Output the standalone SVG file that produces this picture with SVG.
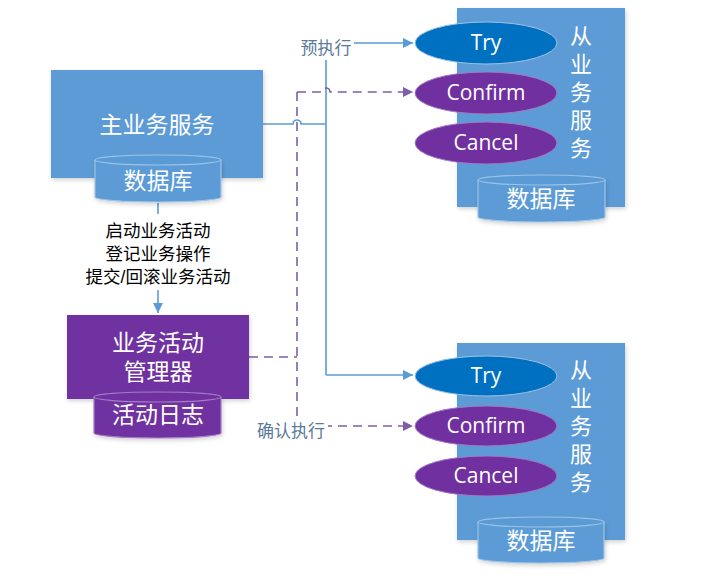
<svg xmlns="http://www.w3.org/2000/svg" width="701" height="575" viewBox="0 0 701 575">
<defs>
<style>
.cjk{font-family:"Liberation Sans","Noto Sans CJK SC",sans-serif;}
.lat{font-family:"Open Sans","Noto Sans","Liberation Sans",sans-serif;}
.wt{fill:#ffffff;text-anchor:middle;}
.blue{fill:#5b9bd5;}
.purp{fill:#7030a0;}
.cylb{fill:#5b9bd5;stroke:#9dc3e6;stroke-width:1.2;}
.cylp{fill:#7030a0;stroke:#a27cc4;stroke-width:1.2;}
.conb{fill:none;stroke:#5b9bd5;stroke-width:1.6;}
.conp{fill:none;stroke:#7e5ea8;stroke-width:1.6;stroke-dasharray:9 6;}
.lbl{fill:#5b7a9a;font-size:17px;text-anchor:middle;}
</style>
<marker id="ab" viewBox="0 0 10 10" refX="10" refY="5" markerWidth="10" markerHeight="10" markerUnits="userSpaceOnUse" orient="auto"><path d="M0,0 L10,5 L0,10 Z" fill="#5b9bd5"/></marker>
<marker id="ap" viewBox="0 0 10 10" refX="10" refY="5" markerWidth="10" markerHeight="10" markerUnits="userSpaceOnUse" orient="auto"><path d="M0,0 L10,5 L0,10 Z" fill="#7e5ea8"/></marker>
<filter id="sh" x="-10%" y="-10%" width="130%" height="130%"><feDropShadow dx="1" dy="2" stdDeviation="2" flood-color="#000" flood-opacity="0.18"/></filter>
</defs>
<rect width="701" height="575" fill="#ffffff"/>

<g id="connectors">
<path class="conb" d="M263,124 H293 A4,4 0 0 1 301,124 H326"/>
<path class="conb" d="M326,375 V43 H413" marker-end="url(#ab)"/>
<path class="conb" d="M326,375 H413" marker-end="url(#ab)"/>
<path class="conp" d="M249,357 H297"/>
<path class="conp" d="M297,92 V426 H413" marker-end="url(#ap)"/>
<path class="conp" d="M297,92 H322 A4,4 0 0 1 330,92 H413" marker-end="url(#ap)"/>
<path class="conb" d="M158,203 V313" marker-end="url(#ab)"/>
<rect x="298" y="35" width="56" height="25" fill="#ffffff"/>
<text class="cjk lbl" x="326" y="54">预执行</text>
<rect x="254" y="419" width="74" height="24" fill="#ffffff"/>
<text class="cjk lbl" x="291" y="437">确认执行</text>
<rect x="80" y="214" width="156" height="76" fill="#ffffff"/>
<text class="cjk" font-size="17.5" fill="#000000" text-anchor="middle"><tspan x="158" y="237">启动业务活动</tspan><tspan x="158" y="260">登记业务操作</tspan><tspan x="158" y="283">提交/回滚业务活动</tspan></text>
</g>

<g id="main-service">
<rect x="51" y="70" width="212" height="108" class="blue" filter="url(#sh)"/>
<text class="cjk wt" x="157" y="133" font-size="23">主业务服务</text>
<g id="main-db">
<path class="cylb" d="M95,160 V197 A63,5 0 0 0 221,197 V160" filter="url(#sh)"/>
<ellipse class="cylb" cx="158" cy="160" rx="63" ry="5"/>
<text class="cjk wt" x="158" y="189" font-size="23">数据库</text>
</g>
</g>

<g id="activity-manager">
<rect x="67" y="315" width="182" height="84" class="purp" filter="url(#sh)"/>
<text class="cjk wt" font-size="23"><tspan x="158" y="351">业务活动</tspan><tspan x="158" y="380">管理器</tspan></text>
<g id="activity-log">
<path class="cylp" d="M94,397 V433 A63.5,5 0 0 0 221,433 V397" filter="url(#sh)"/>
<ellipse class="cylp" cx="157.5" cy="397" rx="63.5" ry="5"/>
<text class="cjk wt" x="158" y="423" font-size="23">活动日志</text>
</g>
</g>

<g id="slave-service-1">
<rect x="457" y="8" width="168" height="199" class="blue" filter="url(#sh)"/>
<text class="cjk wt" font-size="22"><tspan x="581" y="44">从</tspan><tspan x="581" y="72">业</tspan><tspan x="581" y="100">务</tspan><tspan x="581" y="128">服</tspan><tspan x="581" y="156">务</tspan></text>
<g id="try-1"><ellipse cx="486" cy="43" rx="71" ry="21" fill="#0070c0" stroke="#9dc3e6" stroke-width="1"/><text class="lat wt" x="486" y="50" font-size="21">Try</text></g>
<g id="confirm-1"><ellipse cx="486" cy="93" rx="71" ry="21" fill="#7030a0" stroke="#a27cc4" stroke-width="1"/><text class="lat wt" x="486" y="100" font-size="21">Confirm</text></g>
<g id="cancel-1"><ellipse cx="486" cy="143" rx="71" ry="21" fill="#7030a0" stroke="#a27cc4" stroke-width="1"/><text class="lat wt" x="486" y="150" font-size="21">Cancel</text></g>
<g id="slave-db-1">
<path class="cylb" d="M478,180 V217 A63.5,5 0 0 0 605,217 V180" filter="url(#sh)"/>
<ellipse class="cylb" cx="541.5" cy="180" rx="63.5" ry="5"/>
<text class="cjk wt" x="541" y="207" font-size="23">数据库</text>
</g>
</g>

<g id="slave-service-2">
<rect x="457" y="343" width="168" height="197" class="blue" filter="url(#sh)"/>
<text class="cjk wt" font-size="22"><tspan x="581" y="378">从</tspan><tspan x="581" y="406">业</tspan><tspan x="581" y="434">务</tspan><tspan x="581" y="462">服</tspan><tspan x="581" y="490">务</tspan></text>
<g id="try-2"><ellipse cx="486" cy="376" rx="71" ry="20" fill="#0070c0" stroke="#9dc3e6" stroke-width="1"/><text class="lat wt" x="486" y="383" font-size="21">Try</text></g>
<g id="confirm-2"><ellipse cx="486" cy="426" rx="71" ry="20" fill="#7030a0" stroke="#a27cc4" stroke-width="1"/><text class="lat wt" x="486" y="433" font-size="21">Confirm</text></g>
<g id="cancel-2"><ellipse cx="486" cy="476" rx="71" ry="20" fill="#7030a0" stroke="#a27cc4" stroke-width="1"/><text class="lat wt" x="486" y="483" font-size="21">Cancel</text></g>
<g id="slave-db-2">
<path class="cylb" d="M478,522 V558 A63,5 0 0 0 604,558 V522" filter="url(#sh)"/>
<ellipse class="cylb" cx="541" cy="522" rx="63" ry="5"/>
<text class="cjk wt" x="541" y="549" font-size="23">数据库</text>
</g>
</g>
</svg>
